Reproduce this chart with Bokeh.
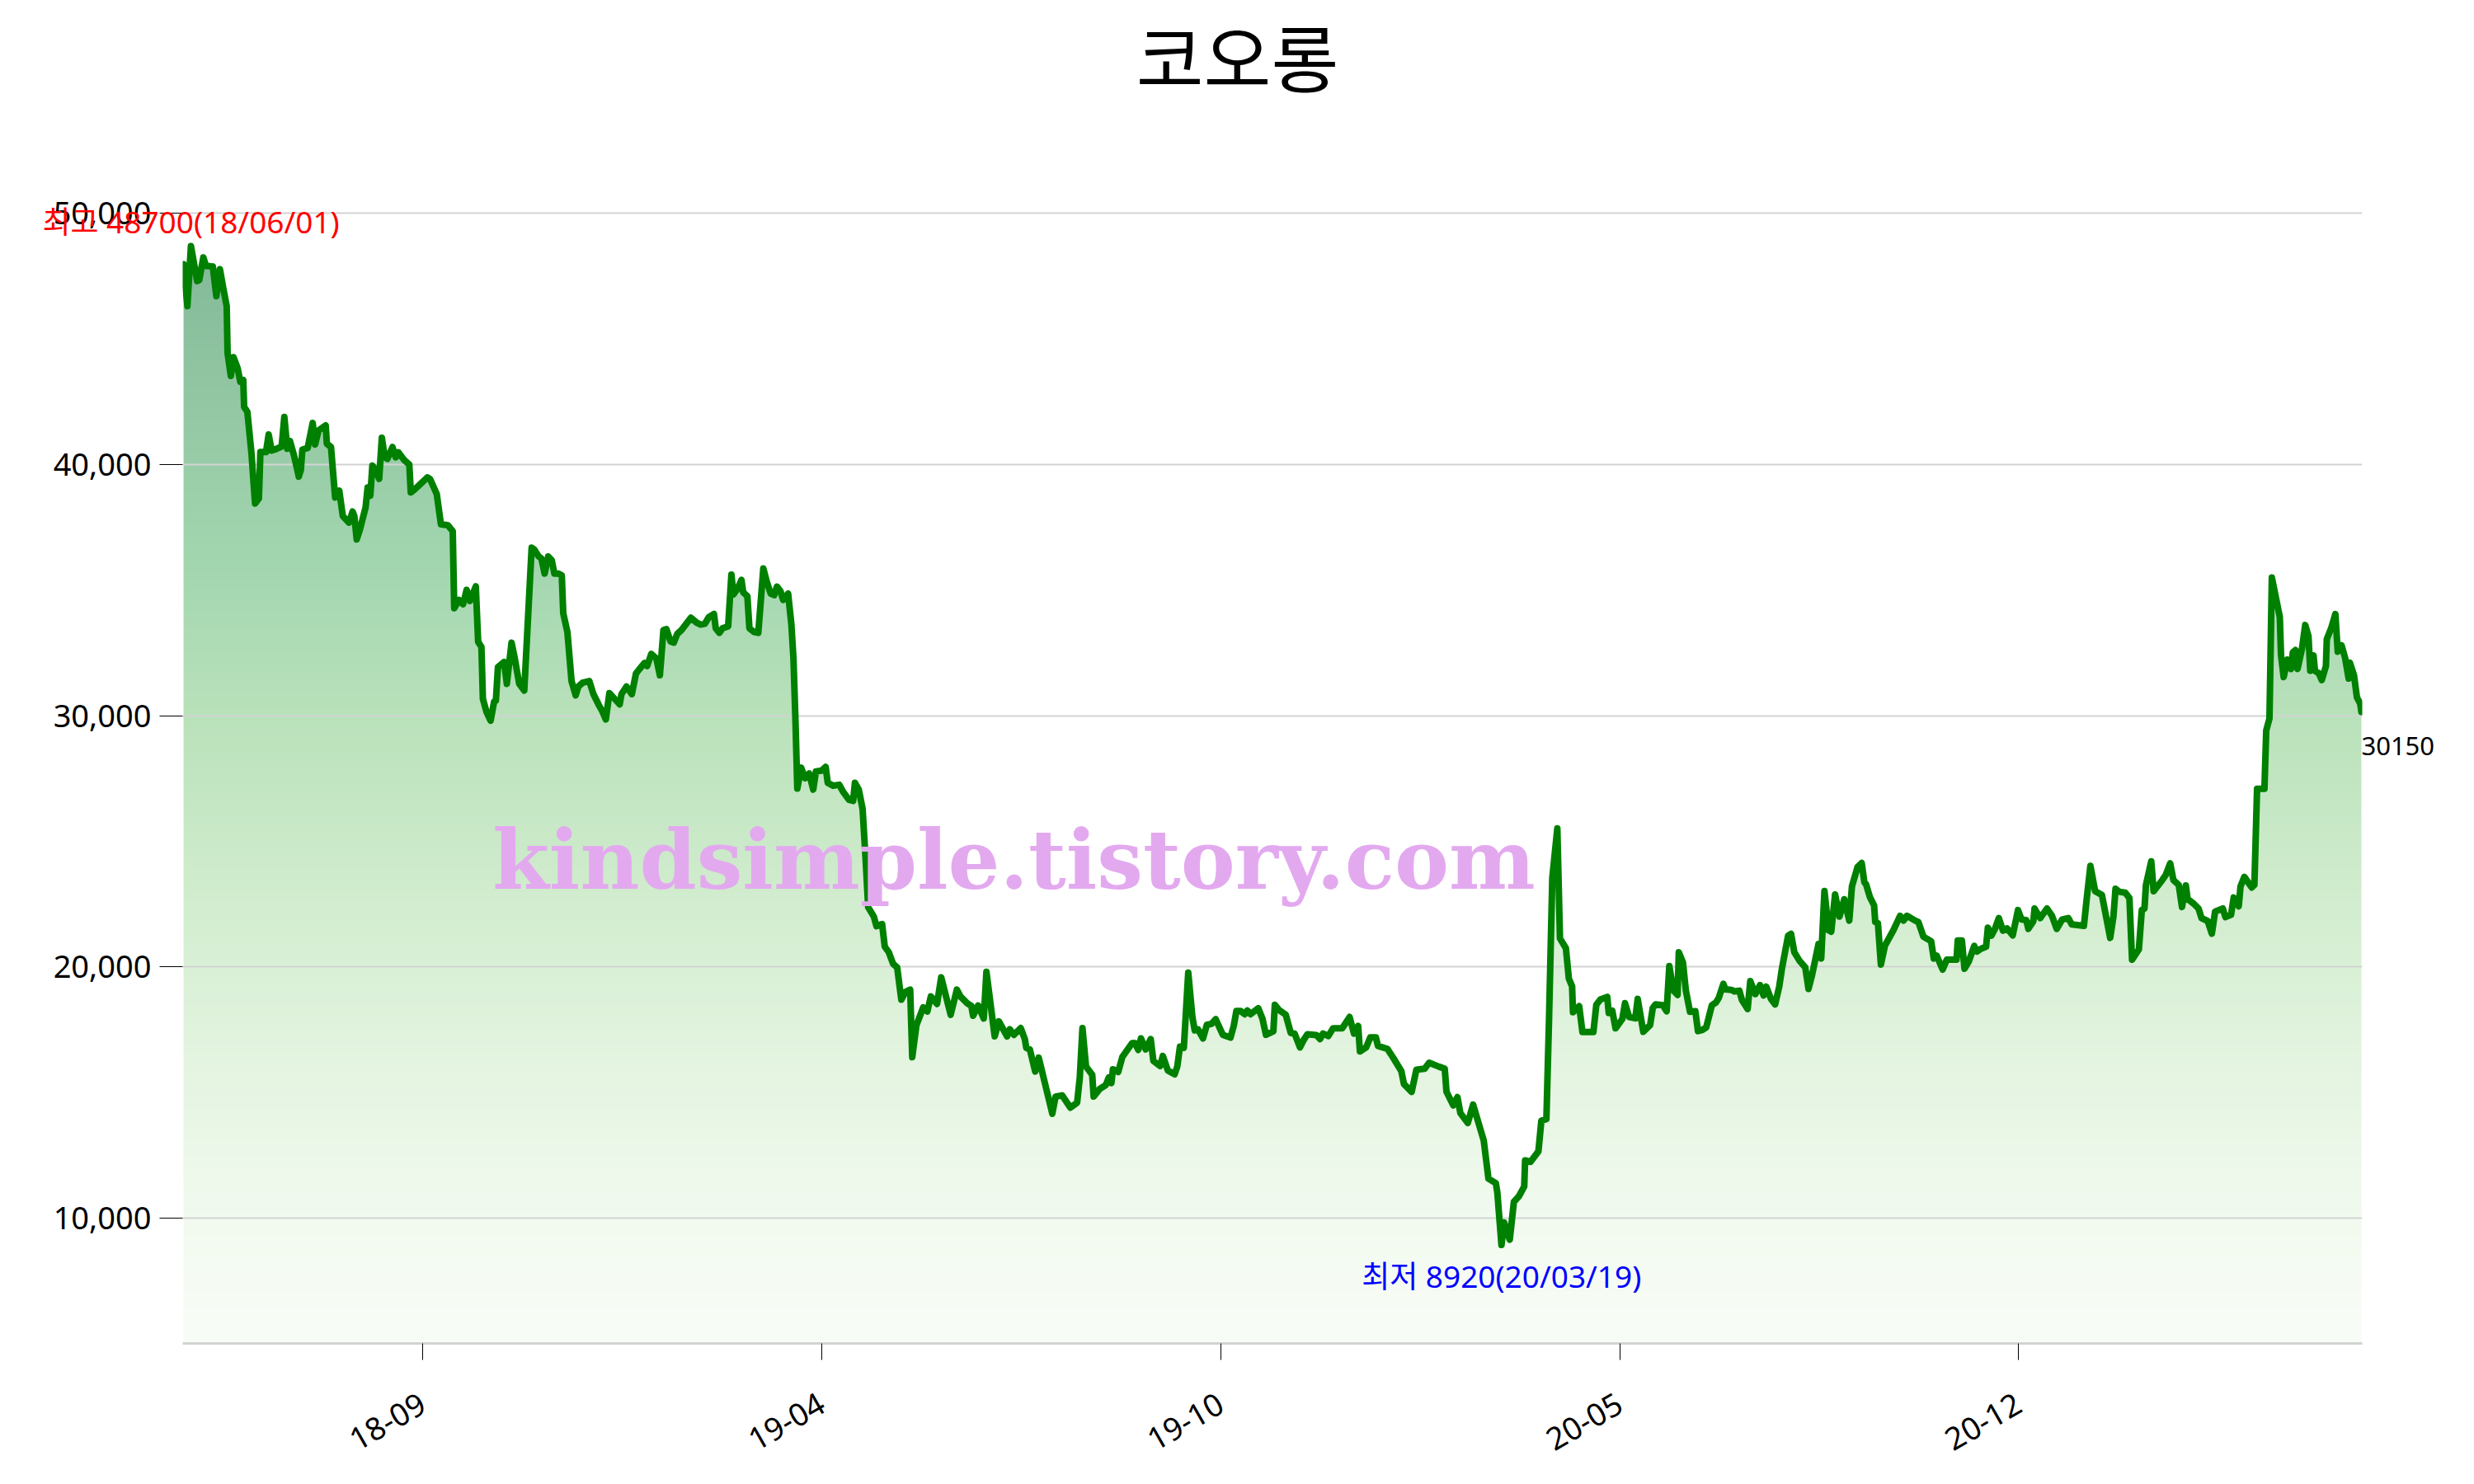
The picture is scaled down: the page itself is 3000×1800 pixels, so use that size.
import math
import numpy as np
from bokeh.plotting import figure
from bokeh.models import Range1d, FixedTicker, NumeralTickFormatter, Label
from bokeh.core.properties import value
from bokeh.embed import file_html
from bokeh.resources import INLINE

title_text = "코오롱"

# trading-day index (0 = first trading day shown) and closing price
day_index = [
    0, 1.3, 2.5, 4.6, 5.3, 6.7, 7.6, 9.9, 11.1, 12.3, 13.4, 14.6, 14.9, 16.0, 16.9, 18.3, 19.2, 20.2, 20.5, 21.6,
    23.0, 24.2, 25.5, 26.0, 27.9, 28.8, 29.8, 30.9, 33.2, 34.1, 35.1, 36.0, 37.4, 39.0, 39.7, 40.2, 42.0, 43.7, 44.5, 45.7,
    48.1, 48.5, 49.9, 51.3, 52.7, 53.9, 56.0, 57.2, 57.8, 58.6, 59.7, 61.6, 62.3, 63.2, 63.9, 64.8, 66.2, 67.1, 68.1, 69.0,
    70.7, 71.8, 72.7, 74.6, 76.4, 76.9, 78.3, 82.5, 83.4, 85.7, 87.1, 89.4, 91.1, 91.6, 93.2, 94.6, 95.8, 96.9, 98.9, 99.7,
    100.8, 101.3, 102.5, 103.9, 105.1, 105.7, 106.4, 108.5, 109.4, 111.0, 111.9, 113.6, 115.3, 117.8, 118.7, 120.1, 121.1, 122.2, 123.4, 124.6,
    125.5, 126.8, 128.0, 128.5, 129.9, 131.3, 132.7, 133.6, 135.0, 137.3, 138.7, 140.6, 141.7, 142.9, 144.1, 146.2, 147.6, 148.2, 149.9, 151.7,
    153.1, 154.1, 156.0, 156.9, 158.3, 160.0, 161.2, 162.4, 163.4, 164.8, 165.9, 167.1, 168.5, 171.7, 173.6, 175.0, 176.4, 177.8, 179.5, 180.1,
    181.3, 182.4, 184.3, 185.4, 186.1, 187.5, 188.8, 189.4, 190.8, 191.5, 193.1, 194.5, 196.2, 197.3, 198.7, 199.9, 200.8, 202.0, 202.9, 204.6,
    205.7, 206.4, 207.1, 207.7, 209.0, 210.3, 211.7, 213.1, 214.0, 215.9, 217.3, 218.0, 219.8, 221.9, 223.3, 225.2, 226.6, 227.2, 228.5, 229.8,
    230.8, 231.7, 233.6, 234.5, 236.4, 237.3, 238.7, 240.1, 241.5, 242.9, 244.3, 245.9, 246.6, 248.0, 250.3, 251.7, 252.9, 255.0, 256.4, 259.6,
    261.7, 262.9, 265.2, 266.6, 267.2, 268.9, 270.8, 271.7, 274.5, 275.9, 278.7, 279.6, 281.0, 283.3, 284.7, 285.2, 286.4, 288.2, 289.4, 294.0,
    295.1, 297.3, 300.1, 302.4, 303.3, 304.2, 305.4, 307.5, 308.0, 310.0, 312.1, 313.1, 314.0, 314.5, 316.3, 317.7, 321.0, 322.0, 323.1, 324.0,
    325.6, 327.3, 328.2, 330.5, 331.4, 333.1, 335.4, 336.3, 337.2, 338.5, 340.0, 341.4, 342.2, 343.3, 345.0, 346.3, 347.9, 349.3, 351.7, 354.3,
    355.4, 356.3, 357.7, 359.1, 360.0, 361.1, 363.7, 365.1, 366.3, 368.8, 369.3, 370.7, 373.0, 374.7, 376.0, 377.8, 379.1, 380.3, 383.4, 384.6,
    385.6, 387.4, 389.0, 392.1, 394.6, 396.1, 397.5, 398.1, 400.2, 401.6, 403.5, 404.2, 407.4, 409.3, 412.1, 413.0, 415.6, 417.2, 420.0, 421.5,
    424.9, 426.8, 427.4, 429.7, 431.1, 432.1, 434.6, 436.4, 440.0, 441.6, 444.1, 444.6, 446.0, 446.9, 448.8, 450.2, 451.9, 453.7, 454.0, 455.8,
    458.5, 459.5, 461.2, 462.1, 463.2, 464.9, 465.8, 467.8, 468.8, 469.9, 470.2, 472.3, 473.4, 477.1, 478.1, 479.5, 481.8, 482.3, 483.5, 484.6,
    486.9, 487.8, 489.2, 491.3, 492.1, 494.0, 496.3, 497.2, 498.1, 500.6, 501.9, 502.8, 504.2, 505.6, 506.0, 507.4, 508.4, 509.8, 511.6, 512.5,
    513.9, 515.3, 517.2, 518.6, 519.5, 521.1, 521.8, 523.9, 524.8, 526.5, 527.4, 529.3, 530.2, 531.9, 533.5, 534.7, 535.6, 537.2, 538.6, 540.0,
    540.9, 543.0, 544.0, 545.1, 546.8, 548.8, 549.9, 551.1, 553.3, 554.2, 555.3, 556.7, 557.6, 558.9, 560.4, 562.0, 563.7, 564.6, 566.5, 567.9,
    568.8, 569.4, 570.7, 572.1, 572.5, 573.4, 574.4, 575.8, 578.6, 580.9, 582.1, 583.2, 586.0, 587.1, 588.8, 591.4, 592.3, 593.3, 595.3, 596.7,
    600.0, 600.4, 601.8, 602.7, 604.1, 606.0, 606.9, 608.3, 610.0, 610.6, 611.8, 613.0, 614.3, 615.7, 617.1, 619.0, 620.8, 622.0, 623.6, 624.3,
    626.0, 626.4, 628.3, 630.6, 632.3, 633.9, 635.7, 637.8, 639.0, 643.1, 644.1, 645.3, 646.9, 649.2, 652.0, 653.1, 653.8, 655.0, 657.1, 658.5,
    659.4, 661.7, 662.7, 663.6, 664.1, 665.9, 666.7, 669.6, 670.8, 672.3, 673.4, 675.2, 676.3, 677.6, 678.2, 680.3, 681.9, 682.9, 685.0, 686.4,
    687.5, 690.1, 691.0, 692.9, 693.8, 695.5, 696.1, 697.4, 699.9, 700.8, 701.7, 704.2, 704.8, 705.9, 706.7, 709.4, 709.8, 710.7, 712.0, 713.2,
    713.8, 714.7, 715.4, 716.9, 718.0, 719.1, 719.7, 720.8, 721.3, 722.6, 723.6, 725.0, 725.3, 726.8, 728.2, 729.0, 730.3, 731.5, 732.7, 733.1,
    734.5, 735.5, 736.6, 737.0,
]
close_price = [
    47980, 46310, 48700, 47310, 47350, 48250, 47910, 47890, 46710, 47780, 47050, 46310, 44440, 43530, 44280, 43840, 43300, 43370, 42300, 42100,
    40430, 38450, 38650, 40500, 40500, 41200, 40560, 40600, 40720, 41900, 40630, 40940, 40360, 39520, 39790, 40600, 40660, 41660, 40800, 41360,
    41560, 40830, 40700, 38690, 38960, 37950, 37690, 38130, 37950, 37020, 37420, 38290, 39090, 38760, 39960, 39830, 39430, 41070, 40290, 40230,
    40700, 40290, 40490, 40190, 40000, 38890, 39020, 39490, 39430, 38820, 37620, 37590, 37350, 34280, 34610, 34440, 35010, 34570, 35150, 32940,
    32740, 30670, 30160, 29800, 30560, 30600, 31940, 32140, 31270, 32910, 32400, 31270, 31000, 36690, 36620, 36350, 36260, 35660, 36340, 36190,
    35660, 35660, 35590, 34080, 33330, 31380, 30810, 31160, 31310, 31380, 30860, 30410, 30180, 29850, 30900, 30630, 30450, 30860, 31160, 30860,
    31680, 31830, 32100, 31980, 32460, 32280, 31610, 33410, 33450, 32960, 32910, 33260, 33410, 33900, 33710, 33630, 33660, 33930, 34050, 33480,
    33300, 33480, 33560, 35620, 34830, 35060, 35410, 34910, 34760, 33480, 33330, 33300, 35860, 35360, 34860, 34800, 35140, 34960, 34610, 34860,
    33630, 32280, 29730, 27100, 27930, 27510, 27700, 27060, 27780, 27810, 27960, 27330, 27210, 27250, 26950, 26650, 26610, 27330, 27060, 26280,
    24320, 22370, 22000, 21620, 21700, 20800, 20570, 20120, 19970, 18690, 19000, 19090, 16400, 17670, 18380, 18220, 18820, 18520, 19580, 18090,
    19090, 18820, 18550, 18440, 18050, 18460, 17940, 19800, 17230, 17830, 17230, 17510, 17290, 17560, 17120, 16770, 16710, 15830, 16380, 14150,
    14830, 14880, 14390, 14590, 15590, 17560, 16030, 15700, 14830, 15130, 15290, 15590, 15370, 15920, 15810, 16410, 16960, 16960, 16690, 17150,
    16710, 17120, 16250, 16050, 16450, 15870, 15720, 16030, 16820, 16770, 19770, 18000, 17470, 17510, 17150, 17690, 17730, 17910, 17290, 17180,
    17650, 18240, 18240, 18110, 18260, 18110, 18350, 17940, 17290, 17430, 18490, 18280, 18090, 17360, 17340, 16790, 17090, 17310, 17280, 17120,
    17340, 17240, 17550, 17550, 18000, 17340, 17640, 16630, 16790, 17190, 17190, 16850, 16730, 16390, 15850, 15330, 15020, 15900, 15940, 16180,
    16020, 15940, 15020, 14480, 14810, 14170, 13780, 14510, 13080, 11560, 11380, 11010, 8920, 9820, 9130, 10640, 10860, 11250, 12290, 12230,
    12650, 13870, 13930, 17940, 23540, 25510, 21130, 20740, 19530, 19220, 18190, 18430, 17400, 17400, 18490, 18700, 18800, 18160, 18250, 17550,
    17920, 18550, 18000, 17950, 18720, 17410, 17680, 18360, 18500, 18470, 18230, 20030, 19050, 18880, 20580, 20180, 19050, 18210, 18230, 17440,
    17480, 17590, 18470, 18580, 18750, 19320, 19100, 19080, 19020, 19050, 18670, 18320, 19430, 18910, 19270, 18860, 19210, 18720, 18500, 19210,
    19920, 21240, 21310, 20580, 20250, 19980, 19120, 19670, 20910, 20330, 23020, 21450, 21400, 22880, 22000, 22690, 21840, 23200, 23970, 24130,
    23370, 23280, 22770, 22440, 21780, 21730, 20090, 20850, 21450, 22030, 21840, 22030, 21840, 21780, 21200, 21020, 20330, 20440, 19890, 20280,
    20280, 21050, 21050, 19920, 20200, 20830, 20610, 20720, 20800, 21560, 21240, 21510, 21940, 21440, 21530, 21250, 22260, 21880, 21860, 21510,
    21820, 22320, 21940, 22320, 22030, 21510, 21880, 21940, 21690, 21630, 22760, 24020, 23010, 22860, 21150, 22010, 23110, 22990, 22950, 22740,
    20280, 20690, 22260, 22320, 23260, 24200, 23010, 23450, 23660, 24120, 23450, 23260, 22380, 23240, 22700, 22510, 22320, 21940, 21820, 21320,
    22200, 22320, 21980, 22070, 22760, 22410, 23200, 23580, 23160, 23260, 27090, 27090, 29410, 29890, 35500, 33930, 32420, 31540, 32230, 31860,
    32520, 32610, 31860, 32670, 33610, 33170, 31790, 32400, 31790, 31690, 31420, 31980, 33050, 33490, 34050, 32550, 32800, 32300, 31480, 32110,
    31610, 30730, 30480, 30150,
]

tick_days = [81, 216, 351, 486, 621]
tick_labels = ["18-09", "19-04", "19-10", "20-05", "20-12"]
y_ticks = [10000, 20000, 30000, 40000, 50000]
high_date = "18/06/01"
low_date = "20/03/19"
watermark_text = "kindsimple.tistory.com"

Y_LO, Y_HI = 5000, 51000
X_LO, X_HI = -0.3, 737.3
KFONT = "Noto Sans, Noto Sans CJK KR"

FRAME_L, FRAME_T, FRAME_W, FRAME_H = 221, 228, 2643, 1401
W = 2990
p = figure(frame_width=FRAME_W, frame_height=FRAME_H, output_backend="svg", toolbar_location=None,
           x_range=Range1d(X_LO, X_HI), y_range=Range1d(Y_LO, Y_HI),
           min_border_left=FRAME_L, min_border_right=W - FRAME_L - FRAME_W,
           min_border_top=FRAME_T, min_border_bottom=150)
p.outline_line_color = None
p.background_fill_color = "white"
p.border_fill_color = "white"


def screen_to_data(sx, sy):
    """canvas pixel -> data coordinates (for placing free text above the frame)"""
    dx = X_LO + (sx - FRAME_L) * (X_HI - X_LO) / FRAME_W
    dy = Y_LO + (FRAME_T + FRAME_H - sy) * (Y_HI - Y_LO) / FRAME_H
    return dx, dy


# gradient fill (Greens colormap at 50% alpha on white), masked above the line
greens = ["#f7fcf5", "#e5f5e0", "#c7e9c0", "#a1d99b", "#74c476", "#41ab5d", "#238b45", "#006d2c", "#00441b"]
stops = np.array([[int(c[i:i + 2], 16) for i in (1, 3, 5)] for c in greens], dtype=float)
pmax = max(close_price)
img_top = pmax + 1500
rows = 700
vals = np.linspace(Y_LO, img_top, rows)
pos = np.clip((vals - Y_LO) / (pmax - Y_LO), 0, 1) * 0.85
sp = np.linspace(0, 1, len(greens))
img = np.empty((rows, 2), dtype=np.uint32)
view = img.view(dtype=np.uint8).reshape((rows, 2, 4))
for ch in range(3):
    col = np.interp(pos, sp, stops[:, ch])
    col = 255 - 0.5 * (255 - col)
    view[:, :, ch] = np.round(col)[:, None].astype(np.uint8)
view[:, :, 3] = 255
x_first, x_last = day_index[0], day_index[-1]
p.image_rgba(image=[img], x=x_first, y=Y_LO - 2000, dw=x_last - x_first, dh=img_top - Y_LO + 2000, level="image")
mask_x = [x_first - 5] + day_index + [x_last + 5]
mask_y = [close_price[0]] + close_price + [close_price[-1]]
p.varea(x=mask_x, y1=mask_y, y2=Y_HI + 5000, fill_color="white", level="image")

p.line(day_index, close_price, line_color="green", line_width=8, line_join="round", line_cap="round")

# axes
p.xgrid.visible = False
p.ygrid.ticker = FixedTicker(ticks=y_ticks)
p.ygrid.grid_line_color = "#d3d3d3"
p.ygrid.grid_line_width = 2

p.yaxis.ticker = FixedTicker(ticks=y_ticks)
p.yaxis.formatter = NumeralTickFormatter(format="0,0")
p.yaxis.axis_line_color = None
p.yaxis.major_tick_out = 28
p.yaxis.major_tick_in = 0
p.yaxis.major_tick_line_color = "black"
p.yaxis.minor_tick_line_color = None
p.yaxis.major_label_standoff = 10
p.yaxis.major_label_text_font_size = "38px"
p.yaxis.major_label_text_font = KFONT
p.yaxis.major_label_text_color = "black"

p.xaxis.ticker = FixedTicker(ticks=tick_days)
p.xaxis.major_label_overrides = {d: lab for d, lab in zip(tick_days, tick_labels)}
p.xaxis.major_label_orientation = math.pi / 6
p.xaxis.axis_line_color = "#d3d3d3"
p.xaxis.axis_line_width = 3
p.xaxis.major_tick_out = 20
p.xaxis.major_tick_in = 0
p.xaxis.major_tick_line_color = "black"
p.xaxis.minor_tick_line_color = None
p.xaxis.major_label_standoff = 50
p.xaxis.major_label_text_font_size = "38px"
p.xaxis.major_label_text_font = KFONT
p.xaxis.major_label_text_color = "black"

# texts (text glyphs on the overlay level so they may run past the frame)
tx, ty = screen_to_data(1500, 66)
p.text(x=[tx], y=[ty], text=[title_text], text_color="black", text_align="center", text_baseline="middle",
       text_font=value("Noto Sans CJK KR"), text_font_size="89px", level="overlay")

hi_i = int(np.argmax(close_price))
lo_i = int(np.argmin(close_price))
p.text(x=[day_index[hi_i]], y=[close_price[hi_i]], text=[f"최고 {close_price[hi_i]}({high_date})"],
       y_offset=-5, text_color="red", text_align="center", text_baseline="bottom",
       text_font=value(KFONT), text_font_size="37px", level="overlay")
p.text(x=[day_index[lo_i]], y=[close_price[lo_i]], text=[f"최저 {close_price[lo_i]}({low_date})"],
       y_offset=12, text_color="blue", text_align="center", text_baseline="top",
       text_font=value(KFONT), text_font_size="37px", level="overlay")
p.text(x=[day_index[-1]], y=[close_price[-1]], text=[f"{close_price[-1]}"],
       y_offset=30, text_color="black", text_align="left", text_baseline="top",
       text_font=value(KFONT), text_font_size="31px", level="overlay")
p.add_layout(Label(x=281, y=24260, text=watermark_text, text_color="#e3a9ef",
                   text_align="center", text_baseline="alphabetic",
                   text_font="DejaVu Serif", text_font_style="bold", text_font_size="99px"))

open("out.html", "w").write(file_html(p, INLINE))
